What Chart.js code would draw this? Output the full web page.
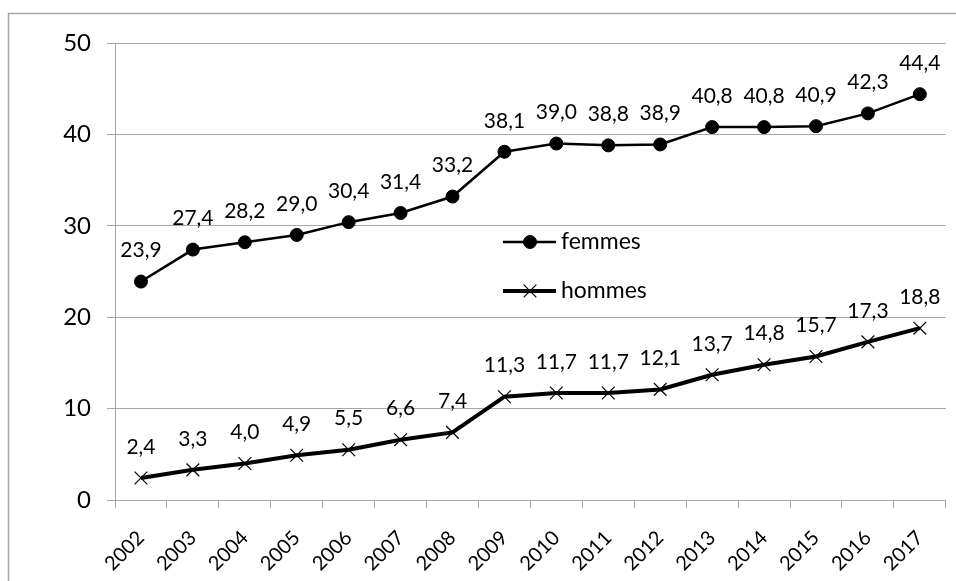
<!DOCTYPE html>
<html>
<head>
<meta charset="utf-8">
<script src="https://cdn.jsdelivr.net/npm/chart.js@4"></script>
<style>
  html, body { margin: 0; padding: 0; background: #fff; }
  #wrap { width: 956px; height: 581px; }
</style>
</head>
<body>
<div id="wrap"><canvas id="chart" width="956" height="581"></canvas></div>
<script>
const years = ['2002', '2003', '2004', '2005', '2006', '2007', '2008', '2009',
    '2010', '2011', '2012', '2013', '2014', '2015', '2016', '2017'];
const femmes = [23.9, 27.4, 28.2, 29.0, 30.4, 31.4, 33.2, 38.1, 39.0, 38.8, 38.9, 40.8, 40.8, 40.9, 42.3, 44.4];
const hommes = [2.4, 3.3, 4.0, 4.9, 5.5, 6.6, 7.4, 11.3, 11.7, 11.7, 12.1, 13.7, 14.8, 15.7, 17.3, 18.8];
const yTicks = [0, 10, 20, 30, 40, 50];

const FONT = 'Lato, "Open Sans", sans-serif';
const GRID = '#a6a6a6';

const fmt = v => v.toFixed(1).replace('.', ',');

// value labels above each point
const valueLabels = {
    id: 'valueLabels',
    afterDatasetsDraw(chart) {
        const ctx = chart.ctx;
        ctx.save();
        ctx.font = '21px ' + FONT;
        ctx.fillStyle = '#000';
        ctx.textAlign = 'center';
        ctx.textBaseline = 'middle';
        chart.data.datasets.forEach((ds, i) => {
            chart.getDatasetMeta(i).data.forEach((pt, j) => {
                ctx.fillText(fmt(ds.data[j]), pt.x, pt.y - 31);
            });
        });
        ctx.restore();
    }
};

// legend drawn inside the plot, plus the outer frame
const extras = {
    id: 'extras',
    beforeDraw(chart) {
        const ctx = chart.ctx;
        ctx.save();
        ctx.strokeStyle = GRID;
        ctx.lineWidth = 1.5;
        ctx.strokeRect(8.5, 13.5, 960, 600);
        ctx.restore();
    },
    afterDraw(chart) {
        const ctx = chart.ctx;
        const rows = [242, 291];
        ctx.save();
        chart.data.datasets.forEach((ds, i) => {
            const y = rows[i];
            ctx.strokeStyle = '#000';
            ctx.lineWidth = ds.borderWidth;
            ctx.beginPath();
            ctx.moveTo(503, y);
            ctx.lineTo(556, y);
            ctx.stroke();
            ctx.fillStyle = '#000';
            ctx.lineWidth = ds.pointBorderWidth;
            Chart.helpers.drawPoint(ctx, {
                pointStyle: ds.pointStyle,
                radius: ds.pointRadius,
                borderWidth: ds.pointBorderWidth,
                rotation: 0
            }, 530, y);
            ctx.font = '23px ' + FONT;
            ctx.textAlign = 'left';
            ctx.textBaseline = 'middle';
            ctx.fillText(ds.label, 561, y);
        });
        ctx.restore();
    }
};

new Chart(document.getElementById('chart').getContext('2d'), {
    type: 'line',
    data: {
        labels: years,
        datasets: [
            {
                label: 'femmes',
                data: femmes,
                borderColor: '#000',
                backgroundColor: '#000',
                borderWidth: 2.5,
                pointStyle: 'circle',
                pointRadius: 6.5,
                pointBorderWidth: 1,
                pointBackgroundColor: '#000',
                tension: 0
            },
            {
                label: 'hommes',
                data: hommes,
                borderColor: '#000',
                backgroundColor: '#000',
                borderWidth: 4,
                pointStyle: 'crossRot',
                pointRadius: 9,
                pointBorderWidth: 1.2,
                tension: 0
            }
        ]
    },
    options: {
        responsive: false,
        animation: false,
        layout: { padding: { top: 43, right: 3, left: 0, bottom: 0 } },
        plugins: {
            legend: { display: false },
            tooltip: { enabled: false }
        },
        scales: {
            x: {
                offset: true,
                grid: { offset: true, drawOnChartArea: false, drawTicks: true, tickLength: 8, color: GRID },
                border: { color: GRID, width: 1 },
                ticks: {
                    autoSkip: false,
                    minRotation: 45,
                    maxRotation: 45,
                    padding: 18,
                    color: '#000',
                    font: { family: FONT, size: 20 }
                },
                afterFit(scale) { scale.height = 81; }
            },
            y: {
                min: 0,
                max: 50,
                afterBuildTicks(scale) { scale.ticks = yTicks.map(v => ({ value: v })); },
                grid: { color: GRID, tickLength: 8 },
                border: { color: GRID, width: 1 },
                ticks: {
                    padding: 16,
                    color: '#000',
                    font: { family: FONT, size: 24 }
                },
                afterFit(scale) { scale.width = 115; }
            }
        }
    },
    plugins: [extras, valueLabels]
});
</script>
</body>
</html>
